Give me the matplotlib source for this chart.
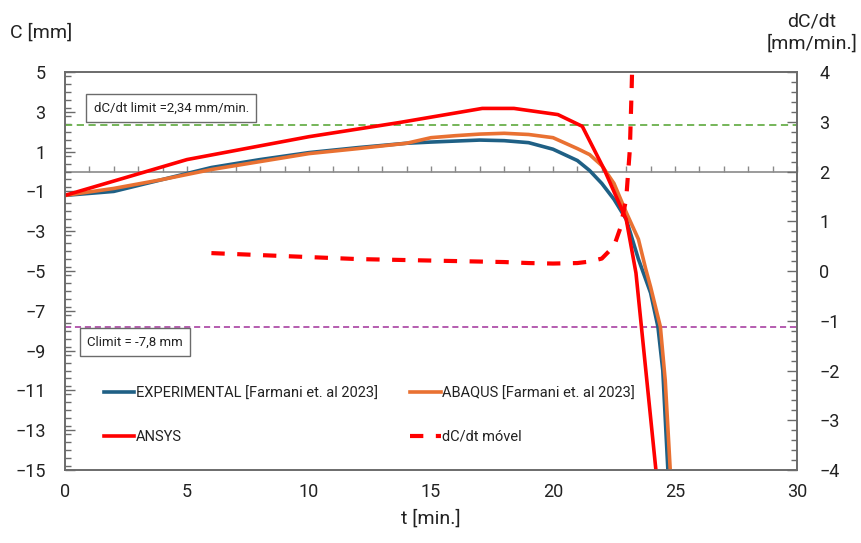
import matplotlib
matplotlib.use("Agg")
import matplotlib.pyplot as plt
from matplotlib.ticker import MultipleLocator, FixedLocator
from matplotlib.lines import Line2D

plt.rcParams['font.family'] = ['Roboto', 'DejaVu Sans']

# Deflection C [mm] versus time t [min.]
t_exp = [0, 2, 4, 5, 6, 8, 10, 12, 14, 15, 17, 18, 19, 20, 21, 21.5, 22, 22.5, 23, 23.5, 24, 24.3, 24.5, 24.75]
c_exp = [-1.2, -1.0, -0.4, -0.1, 0.2, 0.6, 0.95, 1.2, 1.42, 1.48, 1.58, 1.55, 1.45, 1.12, 0.55, 0.05, -0.6, -1.4, -2.4, -4.4, -6.1, -7.8, -10.0, -16.0]

t_abq = [0, 2, 4, 5, 6, 8, 10, 12, 14, 15, 16, 17, 18, 19, 20, 21, 21.5, 22, 22.5, 23, 23.5, 23.8, 24, 24.4, 24.6, 24.85]
c_abq = [-1.2, -0.85, -0.4, -0.15, 0.1, 0.5, 0.9, 1.15, 1.42, 1.7, 1.8, 1.88, 1.92, 1.86, 1.7, 1.15, 0.85, 0.3, -0.6, -2.05, -3.4, -4.9, -5.8, -7.8, -10.5, -16.0]

t_ans = [0, 5, 10, 13.7, 17.1, 18.4, 20.2, 21.2, 22.1, 23.0, 23.4, 24.3]
c_ans = [-1.2, 0.6, 1.75, 2.46, 3.17, 3.17, 2.86, 2.27, 0.1, -2.4, -5.1, -16.0]

# Moving rate of deflection dC/dt [mm/min.]
t_rate = [6, 7, 8, 9, 10, 11, 12, 13, 14, 15, 16, 17, 18, 19, 20, 21, 21.5, 22, 22.5, 22.75, 23.0, 23.15, 23.22, 23.27]
v_rate = [0.36, 0.34, 0.32, 0.30, 0.28, 0.26, 0.24, 0.23, 0.22, 0.21, 0.20, 0.19, 0.18, 0.16, 0.15, 0.16, 0.19, 0.25, 0.5, 0.85, 1.45, 2.45, 3.6, 4.6]

rate_limit = 2.34
c_limit = -7.8

x_ticks = [0, 5, 10, 15, 20, 25, 30]
left_ticks = [5, 3, 1, -1, -3, -5, -7, -9, -11, -13, -15]
right_ticks = [4, 3, 2, 1, 0, -1, -2, -3, -4]

BLUE = '#1f6085'
ORANGE = '#e97132'
RED = '#ff0000'
GREEN = '#6ab04c'
PURPLE = '#a0309a'
FRAME = '#6b6b6b'

fig = plt.figure(figsize=(8.62, 5.43), dpi=100)
ax = fig.add_axes([0.0754, 0.1344, 0.8492, 0.733])
ax2 = ax.twinx()

ax.set_xlim(0, 30)
ax.set_ylim(-15, 5)
ax2.set_ylim(-4, 4)

for a in (ax, ax2):
    for s in a.spines.values():
        s.set_color(FRAME)
        s.set_linewidth(1.2)

# time axis crossing at C = 0, ticks every minute
ax.axhline(0, color='#8a8a8a', lw=1.2, zorder=1)
zero_axis = ax.secondary_xaxis(15 / 20)
zero_axis.spines['top'].set_visible(False)
zero_axis.spines['bottom'].set_visible(False)
zero_axis.xaxis.set_major_locator(MultipleLocator(1))
zero_axis.tick_params(axis='x', which='both', direction='out', length=4.5, width=1.0,
                      color='#8a8a8a', labeltop=False, labelbottom=False)

ax.xaxis.set_major_locator(FixedLocator(x_ticks))
ax.tick_params(axis='x', length=0, labelsize=13, pad=9, colors='#222222')

ax.yaxis.set_major_locator(FixedLocator(left_ticks))
ax.yaxis.set_minor_locator(MultipleLocator(0.4))
ax.tick_params(axis='y', which='major', direction='in', length=7, width=1.0, color=FRAME,
               labelsize=13, pad=14, labelcolor='#222222')
ax.tick_params(axis='y', which='minor', direction='in', length=4, width=1.0, color=FRAME)

ax2.yaxis.set_major_locator(FixedLocator(right_ticks))
ax2.yaxis.set_minor_locator(MultipleLocator(0.2))
ax2.tick_params(axis='y', which='major', direction='in', length=7, width=1.0, color=FRAME,
                labelsize=13, pad=16, labelcolor='#222222')
ax2.tick_params(axis='y', which='minor', direction='in', length=4, width=1.0, color=FRAME)

# limit lines
ax.axhline(rate_limit, color=GREEN, lw=1.3, ls=(0, (4, 2.5)), zorder=2)
ax.axhline(c_limit, color=PURPLE, lw=1.1, ls=(0, (4, 2.5)), zorder=2)

# series
ax.plot(t_exp, c_exp, color=BLUE, lw=2.6, zorder=3, solid_joinstyle='round')
ax.plot(t_abq, c_abq, color=ORANGE, lw=2.6, zorder=3, solid_joinstyle='round')
ax.plot(t_ans, c_ans, color=RED, lw=2.6, zorder=4, solid_joinstyle='round')
ax2.plot(t_rate, v_rate, color=RED, lw=3.0, ls=(0, (3.2, 3.0)), zorder=4, clip_on=True)

# annotation boxes
box = dict(boxstyle='square,pad=0.55', facecolor='white', edgecolor=FRAME, lw=1.0)
ax.text(0.039, 0.909, 'dC/dt limit =2,34 mm/min.', transform=ax.transAxes, fontsize=9.5,
        va='center', ha='left', bbox=box, color='#222222', zorder=5)
ax.text(0.030, 0.322, 'Climit = -7,8 mm', transform=ax.transAxes, fontsize=9.5,
        va='center', ha='left', bbox=box, color='#222222', zorder=5)

# legend
handles = [
    Line2D([], [], color=BLUE, lw=2.6),
    Line2D([], [], color=ORANGE, lw=2.6),
    Line2D([], [], color=RED, lw=2.6),
    Line2D([], [], color=RED, lw=3.0, ls=(0, (3.2, 3.0))),
]
labels = ['EXPERIMENTAL [Farmani et. al 2023]', 'ABAQUS [Farmani et. al 2023]',
          'ANSYS', 'dC/dt móvel']
leg = ax2.legend([handles[0], handles[2], handles[1], handles[3]],
                 [labels[0], labels[2], labels[1], labels[3]],
                 ncol=2, frameon=False, fontsize=10.5, handlelength=2.1, handletextpad=0.1,
                 columnspacing=2.2, labelspacing=2.0,
                 loc='upper left', bbox_to_anchor=(0.035, 0.243))
for txt in leg.get_texts():
    txt.set_color('#222222')

# axis titles
fig.text(0.012, 0.94, 'C [mm]', fontsize=14, ha='left', va='center', color='#222222')
fig.text(0.942, 0.94, 'dC/dt\n[mm/min.]', fontsize=14, ha='center', va='center',
         color='#222222', linespacing=1.25)
ax.set_xlabel('t [min.]', fontsize=14, color='#222222', labelpad=6)

fig.savefig('out.png', dpi=100)
